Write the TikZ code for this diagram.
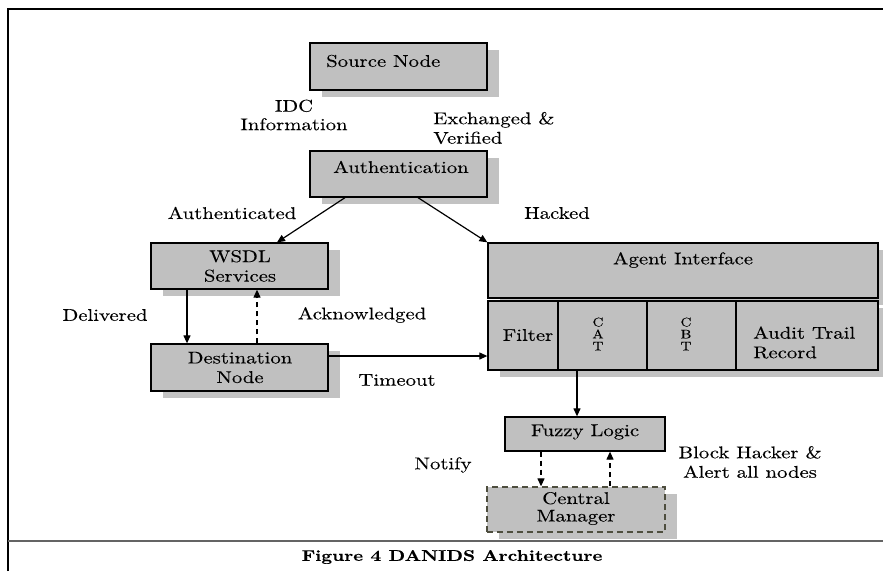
\documentclass[tikz,border=0pt]{standalone}
\usepackage{fontspec}
\setmainfont{lmroman10-regular.otf}[FakeStretch=1.22, FakeBold=0.15, BoldFont=lmroman10-bold.otf, BoldFeatures={FakeBold=0.2}]
\usetikzlibrary{arrows.meta,shadows,calc}
\definecolor{boxgray}{RGB}{192,192,192}
\definecolor{shadowgray}{RGB}{194,194,194}
\definecolor{dashcol}{RGB}{78,78,62}
\definecolor{sepcol}{RGB}{100,100,100}
\tikzset{
  box/.style={draw=black, line width=1.3pt, fill=boxgray, inner sep=0pt},
  shbox/.style={box, drop shadow={shadow xshift=12pt, shadow yshift=-7pt, fill=shadowgray, opacity=1}},
  cell/.style={draw=black, line width=1.3pt, inner sep=0pt},
  txt/.style={font=\fontsize{17}{19.5}\selectfont, inner sep=0pt, align=center},
  ltxt/.style={font=\fontsize{17}{19.5}\selectfont, inner sep=0pt, align=left},
  vtxt/.style={font=\fontsize{12.5}{12}\selectfont, inner sep=0pt, align=center},
  arr/.style={line width=1.2pt, -{Triangle[length=8pt,width=7pt]}},
  darr/.style={arr, dash pattern=on 5pt off 4pt},
}
\begin{document}
\begin{tikzpicture}[x=1pt, y=-1pt]
\useasboundingbox (0,0) rectangle (883,571);
\clip (0,0) rectangle (883,571);
% frame
\coordinate (fbl) at (8,571);
\coordinate (ftl) at (8,9);
\coordinate (ftr) at (883,9);
\coordinate (sl) at (8,541);
\coordinate (sr) at (883,541);
\draw[line width=1.5pt] (fbl) -- (ftl) -- (ftr);
\draw[line width=1.6pt, sepcol] (sl) -- (sr);
% boxes
\node[shbox, minimum width=177pt, minimum height=47pt] (src) at (398.5,66.5) {};
\node[shbox, minimum width=177pt, minimum height=46pt] (auth) at (398.5,174) {};
\node[shbox, minimum width=177pt, minimum height=46pt] (wsdl) at (239.5,266) {};
\node[shbox, minimum width=177pt, minimum height=47pt] (dest) at (239.5,367.5) {};
\node[shbox, minimum width=390pt, minimum height=55pt] (agent) at (683,270.5) {};
\node[shbox, minimum width=390pt, minimum height=69pt] (row) at (683,335.5) {};
\node[cell, minimum width=70pt, minimum height=69pt] (filter) at (523,335.5) {};
\node[cell, minimum width=89pt, minimum height=69pt] (cat) at (602.5,335.5) {};
\node[cell, minimum width=89pt, minimum height=69pt] (cbt) at (691.5,335.5) {};
\node[cell, minimum width=142pt, minimum height=69pt] (audit) at (807,335.5) {};
\node[box, minimum width=160pt, minimum height=34pt] (fuzzy) at (585,434) {};
\node[box, draw=dashcol, dash pattern=on 6pt off 4pt, minimum width=178pt, minimum height=45pt,
      drop shadow={shadow xshift=12pt, shadow yshift=-7pt, fill=shadowgray, opacity=1}] (central) at (576,509.5) {};
% box texts
\node[txt, anchor=west] (tsrc) at (326,61) {Source Node};
\node[txt] (tauth) at (401,167) {Authentication};
\node[txt] (twsdl) at (240,266) {WSDL\\Services};
\node[txt] (tdest) at (240,367.5) {Destination\\Node};
\node[txt] (tagent) at (683,260) {Agent Interface};
\node[txt] (tfilter) at (528,335) {Filter};
\node[vtxt] (tcat) at (598,334) {C\\A\\T};
\node[vtxt] (tcbt) at (686,334) {C\\B\\T};
\node[ltxt, anchor=west] (taudit) at (753,342.5) {Audit Trail\\Record};
\node[txt] (tfuzzy) at (585,432) {Fuzzy Logic};
\node[txt, font=\fontsize{17}{17.5}\selectfont] (tcentral) at (576,508.5) {Central\\Manager};
% labels
\node[txt, font=\fontsize{17}{18.5}\selectfont] (lidc) at (294,115) {IDC\\Information};
\node[ltxt, anchor=west] (lexch) at (433,128) {Exchanged \&\\Verified};
\node[txt] (lauthd) at (232,213) {Authenticated};
\node[txt] (lhack) at (557,213) {Hacked};
\node[txt] (ldeliv) at (105,315) {Delivered};
\node[txt] (lack) at (362,315) {Acknowledged};
\node[txt] (ltime) at (397,380) {Timeout};
\node[txt] (lnotify) at (443,465) {Notify};
\node[txt] (lblock) at (750,462) {Block Hacker \&\\Alert all nodes};
\node[font=\bfseries\fontsize{15.5}{18}\selectfont, inner sep=0pt] (caption) at (452,557) {Figure 4 DANIDS Architecture};
% connectors
\draw[arr] ([xshift=-53.5pt]auth.south) -- ([xshift=37.5pt]wsdl.north);
\draw[arr] ([xshift=19.5pt]auth.south) -- (agent.north west);
\draw[arr] ([xshift=-52.5pt]wsdl.south) -- ([xshift=-52.5pt]dest.north);
\draw[darr] ([xshift=17.5pt]dest.north) -- ([xshift=17.5pt]wsdl.south);
\draw[arr] ([yshift=11.5pt]dest.east) -- ([yshift=11.5pt]dest.east -| row.west);
\draw[arr] ([xshift=-8pt]fuzzy.north |- row.south) -- ([xshift=-8pt]fuzzy.north);
\draw[darr] ([xshift=-44pt]fuzzy.south) -- ([xshift=-44pt]fuzzy.south |- central.north);
\draw[darr] ([xshift=34pt]central.north) -- ([xshift=34pt]central.north |- fuzzy.south);
\end{tikzpicture}
\end{document}
